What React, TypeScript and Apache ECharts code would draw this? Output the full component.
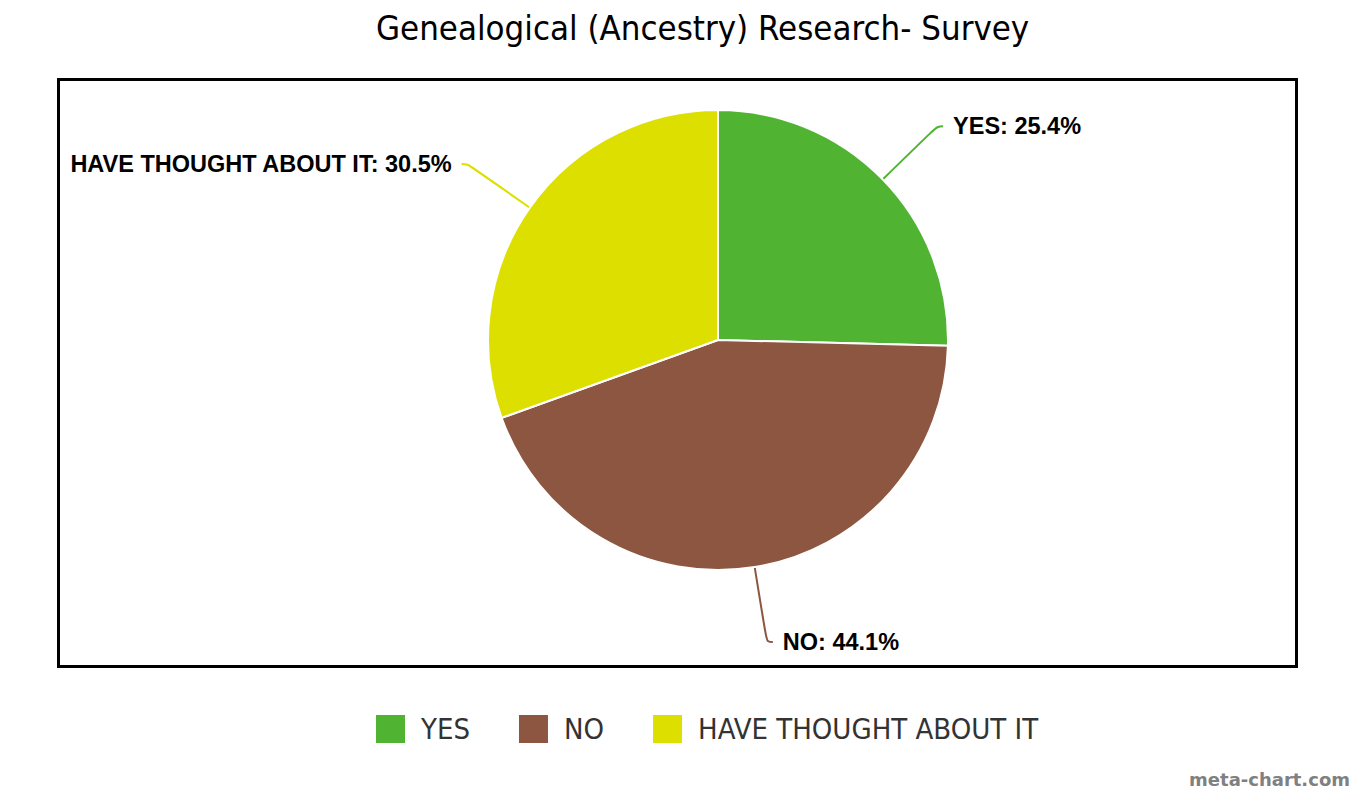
import React, { useEffect, useRef } from "react";
import * as echarts from "echarts";

const categories = ["YES", "NO", "HAVE THOUGHT ABOUT IT"];
const shares = [25.4, 44.1, 30.5];
const colors = ["#50B432", "#8C5640", "#DDDF00"];
const titleText = "Genealogical (Ancestry) Research- Survey";
const watermark = "meta-chart.com";

export default function App() {
  const ref = useRef<HTMLDivElement>(null);
  useEffect(() => {
    if (!ref.current) return;
    const chart = echarts.init(ref.current, undefined, { renderer: "svg" });
    chart.setOption({
      animation: false,
      backgroundColor: "#ffffff",
      title: {
        text: titleText,
        left: 371,
        top: 5,
        textStyle: {
          fontFamily: "'DejaVu Sans Condensed', 'DejaVu Sans', sans-serif",
          fontWeight: "normal",
          fontSize: 34.5,
          color: "#000000",
        },
      },
      legend: {
        data: categories,
        bottom: 38,
        left: 369,
        itemWidth: 31,
        itemHeight: 30,
        itemGap: 47,
        icon: "rect",
        textStyle: {
          fontFamily: "'DejaVu Sans Condensed', 'DejaVu Sans', sans-serif",
          fontSize: 29,
          color: "#333333",
          padding: [0, 0, 0, 10],
        },
      },
      graphic: [
        {
          type: "rect",
          shape: { x: 58.5, y: 79.5, width: 1238, height: 587 },
          style: { fill: "none", stroke: "#000000", lineWidth: 3 },
          z: -1,
        },
        {
          type: "text",
          right: 5,
          bottom: 0,
          style: {
            text: watermark,
            fill: "#808080",
            font: "bold 18px 'DejaVu Sans', sans-serif",
          },
        },
      ],
      series: [
        {
          type: "pie",
          center: [718, 340],
          radius: 230,
          startAngle: 90,
          clockwise: true,
          data: categories.map((name, i) => ({
            name,
            value: shares[i],
            itemStyle: { color: colors[i] },
          })),
          itemStyle: { borderColor: "#ffffff", borderWidth: 2 },
          label: {
            show: true,
            position: "outside",
            formatter: (p: any) => `${p.name}: ${p.value}%`,
            fontFamily: "'Liberation Sans', Arial, sans-serif",
            fontWeight: "bold",
            fontSize: 23.5,
            color: "#000000",
            distanceToLabelLine: 10,
          },
          labelLine: {
            show: true,
            length: 76,
            length2: 6,
            smooth: 0.4,
            lineStyle: { width: 2 },
          },
          emphasis: { disabled: true },
        },
      ],
    });
    return () => chart.dispose();
  }, []);
  return (
    <div
      ref={ref}
      style={{ position: "absolute", left: 0, top: 0, width: 1355, height: 788 }}
    />
  );
}
